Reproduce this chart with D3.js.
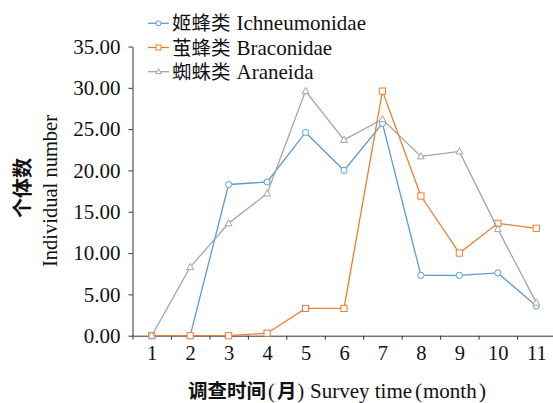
<!DOCTYPE html>
<html><head><meta charset="utf-8">
<script src="https://cdn.jsdelivr.net/npm/d3@7"></script>
<style>
html,body{margin:0;padding:0;background:#fff;}
svg{display:block;font-family:"Liberation Serif","Times New Roman",serif;}
</style></head>
<body>
<svg id="chart" width="553" height="403"></svg>
<script>
const months = [1,2,3,4,5,6,7,8,9,10,11];
const ichneumonidae = [0,0,18.3,18.6,24.6,20.0,25.7,7.3,7.3,7.6,3.6];
const braconidae   = [0,0,0,0.3,3.3,3.3,29.6,16.9,10.0,13.6,13.0];
const araneida     = [0,8.3,13.6,17.2,29.6,23.7,26.2,21.7,22.3,12.9,4.0];
const seriesNamesCN = ["姬蜂类","茧蜂类","蜘蛛类"];
const seriesNamesEN = ["Ichneumonidae","Braconidae","Araneida"];
const seriesColors = ["#5b9bd5","#ed7d31","#a5a5a5"];
const seriesMarkers = ["circle","square","triangle"];
const yTicks = [0,5,10,15,20,25,30,35];

const CJK = "Noto Sans CJK SC";
const LAT = "Liberation Serif";

const svg = d3.select("#chart");
const x = d3.scaleLinear().domain([0.5,11.5]).range([132.5,555.5]);
const y = d3.scaleLinear().domain([0,35]).range([335.7,46.5]);

// y axis
const ya = svg.append("g").attr("transform","translate(132.5,0)")
  .call(d3.axisLeft(y).tickValues(yTicks).tickFormat(d3.format(".2f")).tickSize(4).tickSizeOuter(0).tickPadding(8));
ya.attr("font-family",LAT);
ya.selectAll("text").attr("font-size",21).attr("font-family",LAT).attr("fill","#111");
ya.selectAll("line,path").attr("stroke","#333");

// x axis ticks at band edges
const edges = d3.range(0.5,12,1);
const xa = svg.append("g").attr("transform","translate(0,335.7)")
  .call(d3.axisBottom(x).tickValues(edges).tickFormat("").tickSize(4).tickSizeOuter(0));
xa.selectAll("line,path").attr("stroke","#333");
const xl = svg.append("g").attr("transform","translate(0,335.7)")
  .call(d3.axisBottom(x).tickValues(months).tickFormat(d3.format("d")).tickSize(0).tickPadding(10));
xl.attr("font-family",LAT);
xl.select(".domain").remove();
xl.selectAll("text").attr("font-size",20.5).attr("font-family",LAT).attr("fill","#111");

// series
const data = [ichneumonidae, braconidae, araneida];
const line = d3.line().x((d,i)=>x(months[i])).y(d=>y(d));
function drawMarker(g, type, cx, cy, color, s){
  if(type==="circle"){
    g.append("circle").attr("cx",cx).attr("cy",cy).attr("r",s*0.5).attr("fill","#fff").attr("stroke",color).attr("stroke-width",1);
  } else if(type==="square"){
    g.append("rect").attr("x",cx-s/2).attr("y",cy-s/2).attr("width",s).attr("height",s).attr("fill","#fff").attr("stroke",color).attr("stroke-width",1);
  } else {
    g.append("path").attr("d",`M${cx},${cy-s*0.6}L${cx+s*0.55},${cy+s*0.4}L${cx-s*0.55},${cy+s*0.4}Z`).attr("fill","#fff").attr("stroke",color).attr("stroke-width",1);
  }
}
data.forEach((vals,si)=>{
  const g = svg.append("g");
  g.append("path").datum(vals).attr("d",line).attr("fill","none").attr("stroke",seriesColors[si]).attr("stroke-width",1.3);
  vals.forEach((v,i)=>drawMarker(g, seriesMarkers[si], x(months[i]), y(v), seriesColors[si], 6.2));
});

// legend
const lg = svg.append("g");
const rowY = [23.3,47.5,71.7];
seriesNamesCN.forEach((n,i)=>{
  lg.append("line").attr("x1",148).attr("x2",169).attr("y1",rowY[i]).attr("y2",rowY[i]).attr("stroke",seriesColors[i]).attr("stroke-width",1.3);
  drawMarker(lg, seriesMarkers[i], 158.5, rowY[i], seriesColors[i], 5);
  const cn = lg.append("text").attr("x",172).attr("y",rowY[i]+7).attr("font-size",19.5)
    .attr("font-family",CJK).attr("fill","#111").text(n);
  const w = cn.node().getComputedTextLength();
  lg.append("text").attr("x",172+w+6).attr("y",rowY[i]+7).attr("font-size",21)
    .attr("font-family",LAT).attr("fill","#111").text(seriesNamesEN[i]);
});

// axis titles
svg.append("text").attr("transform","translate(21,188) rotate(-90)").attr("text-anchor","middle").attr("dominant-baseline","central")
  .attr("font-size",20).attr("font-weight","bold").attr("font-family",CJK).attr("fill","#111").text("个体数");
svg.append("text").attr("transform","translate(50,191) rotate(-90)").attr("text-anchor","middle").attr("dominant-baseline","central")
  .attr("font-size",20.5).attr("font-family",LAT).attr("fill","#111").text("Individual number");

const ty = 398;
function t(xp, str, fam, size, bold){
  return svg.append("text").attr("x",xp).attr("y",ty).attr("font-size",size).attr("font-family",fam)
    .attr("font-weight",bold?"bold":"normal").attr("fill","#111").text(str);
}
t(188,"调查时间",CJK,19.5,true);
t(268,"(",LAT,20,false);
t(277,"月",CJK,19.5,true);
t(297.5,")",LAT,20,false);
t(310,"Survey time",LAT,21,false);
t(415,"(",LAT,21,false);
t(423,"month",LAT,21,false);
t(479,")",LAT,21,false);
</script>
</body></html>
